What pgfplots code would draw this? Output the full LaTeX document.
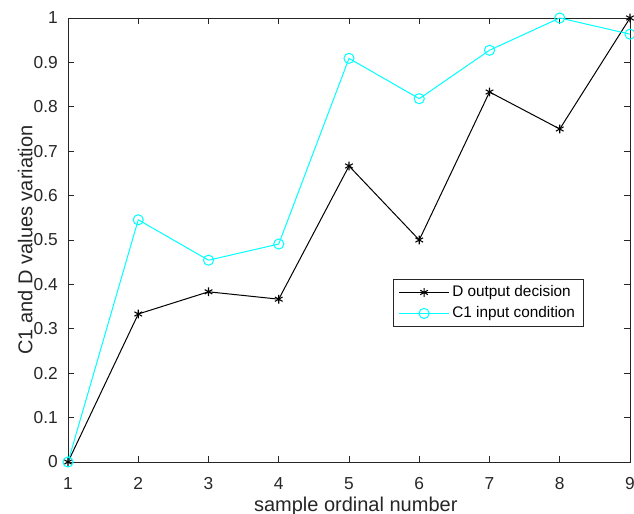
\documentclass[border=0pt]{standalone}
\usepackage{fontspec}
\setmainfont{Liberation Sans}
\usepackage{pgfplots}
\pgfplotsset{compat=1.18}
\definecolor{mcyan}{rgb}{0,1,1}
\definecolor{axgray}{rgb}{0.15,0.15,0.15}
\begin{document}
\begin{tikzpicture}
\begin{axis}[
  scale only axis,
  width=421.5pt, height=333pt,
  xmin=1, xmax=9, ymin=0, ymax=1,
  xtick={1,...,9},
  ytick={0,0.1,...,1},
  yticklabels={0,0.1,0.2,0.3,0.4,0.5,0.6,0.7,0.8,0.9,1},
  tick align=inside,
  major tick length=4.5pt,
  axis line style={axgray, line width=0.6pt},
  tick style={axgray, line width=0.6pt},
  every tick label/.append style={font=\fontsize{13}{15}\selectfont, text=axgray, inner sep=0pt},
  yticklabel style={xshift=-7.5pt},
  xticklabel style={yshift=-11.5pt},
  /pgf/number format/assume math mode=true,
  xlabel={sample ordinal number},
  ylabel={C1 and D values variation},
  label style={font=\fontsize{15}{17}\selectfont, text=axgray},
  xlabel style={at={(rel axis cs:0.512,-0.1115)}, anchor=base},
  ylabel style={at={(rel axis cs:-0.0635,0.5)}, anchor=base},
  legend style={at={(rel axis cs:0.578,0.412)}, anchor=north west, draw=axgray, line width=0.6pt,
    font=\fontsize{11.5}{13}\selectfont, row sep=0.75pt, inner xsep=4pt, inner ysep=2.25pt,
    nodes={inner ysep=2pt, text height=8.5pt, text depth=2.5pt}},
  legend cell align=left,
  legend image code/.code={\draw[#1, mark=none] (0pt,0pt) -- (37.5pt,0pt); \draw[#1, only marks] plot coordinates {(18.75pt,0pt)};},
]
\addplot[black, line width=0.75pt, mark=asterisk, mark size=3.3pt, mark options={solid, line width=0.8pt}] coordinates {
(1,0) (2,0.3333) (3,0.3833) (4,0.3667) (5,0.6667) (6,0.5) (7,0.8333) (8,0.75) (9,1)};
\addlegendentry{D output decision}
\addplot[mcyan, line width=0.75pt, mark=o, mark size=3.8pt, mark options={solid}] coordinates {
(1,0) (2,0.5455) (3,0.4545) (4,0.4909) (5,0.9091) (6,0.8182) (7,0.9273) (8,1) (9,0.9636)};
\addlegendentry{C1 input condition}
\coordinate (bl) at (rel axis cs:-0.121,-0.1149);
\coordinate (tr) at (rel axis cs:1.0071,1.0405);
\end{axis}
\pgfresetboundingbox
\path[use as bounding box] (bl) rectangle (tr);
\end{tikzpicture}
\end{document}
